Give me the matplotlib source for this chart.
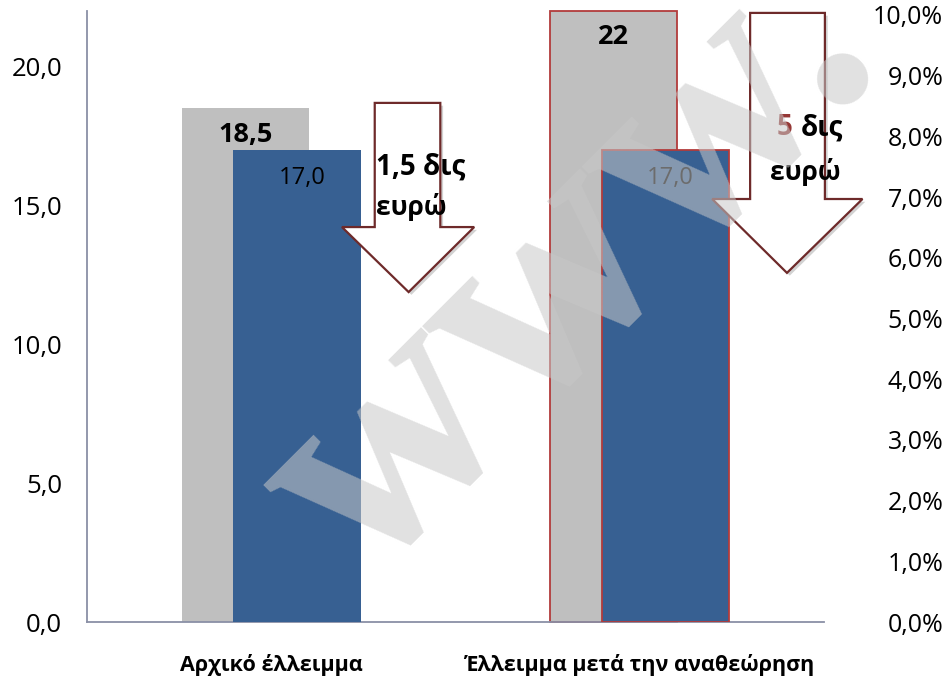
import numpy as np
import matplotlib
matplotlib.use('Agg')
from matplotlib import pyplot as plt
from matplotlib.patches import Polygon
import matplotlib.patheffects as pe

plt.rcParams['font.family'] = ['Open Sans', 'DejaVu Sans']

categories = ['Αρχικό έλλειμμα', 'Έλλειμμα μετά την αναθεώρηση']
grey_vals = [18.5, 22]
blue_vals = [17.0, 17.0]
grey_labels = ['18,5', '22']
blue_labels = ['17,0', '17,0']
left_ticks = [0, 5, 10, 15, 20]
right_ticks = [0, 1, 2, 3, 4, 5, 6, 7, 8, 9, 10]

grey = '#bfbfbf'
blue = '#376092'
bar_red = '#b23b3b'
arrow_red = '#6e2a2a'
spine = '#8a90a6'

fig = plt.figure(figsize=(9.47, 6.77), dpi=100)
ax = fig.add_axes([0.0919, 0.0812, 0.778, 0.9026])
ax2 = ax.twinx()

x = np.arange(len(categories))
w = 0.346
off = 0.0703
edges = ['none', bar_red]
for i in range(len(x)):
    ax.bar(x[i] - off, grey_vals[i], w, color=grey, edgecolor=edges[i], linewidth=1.3,
           zorder=2, clip_on=False)
for i in range(len(x)):
    ax.bar(x[i] + off, blue_vals[i], w, color=blue, edgecolor=edges[i], linewidth=1.3, zorder=3)

for i in range(len(x)):
    ax.text(x[i] - off, grey_vals[i] - 0.95, grey_labels[i], ha='center', va='center',
            fontsize=19.5, fontweight='bold', zorder=5)
    ax.text(x[i] + off + 0.014, blue_vals[i] - 1.0, blue_labels[i], ha='center', va='center',
            fontsize=17, zorder=5)

ax.set_xlim(-0.5, 1.5)
ax.set_ylim(0, 22)
ax.set_yticks(left_ticks)
ax.set_yticklabels([f'{v:.1f}'.replace('.', ',') for v in left_ticks])
ax.tick_params(axis='y', length=0, pad=18, labelsize=18.5)
ax.set_xticks(x)
ax.set_xticklabels(categories, fontweight='bold', fontsize=15.5)
ax.tick_params(axis='x', length=0, pad=23)

for s in ['top', 'right']:
    ax.spines[s].set_visible(False)
ax.spines['left'].set_color(spine)
ax.spines['bottom'].set_color(spine)
ax.spines['left'].set_linewidth(1.3)
ax.spines['bottom'].set_linewidth(1.3)

ax2.set_ylim(0, 10.066)
ax2.set_yticks(right_ticks)
ax2.set_yticklabels([f'{v:.1f}'.replace('.', ',') + '%' for v in right_ticks])
ax2.tick_params(axis='y', length=0, pad=86, labelsize=18)
for lab in ax2.get_yticklabels():
    lab.set_horizontalalignment('right')
for s in ax2.spines.values():
    s.set_visible(False)

# down arrows (shaft left, shaft right, head left, head right, tip x; top, shaft bottom, tip y)
arrows = [
    (0.281, 0.459, 0.192, 0.551, 0.373, 18.69, 14.22, 11.88),
    (1.300, 1.503, 1.197, 1.605, 1.400, 21.93, 15.23, 12.57),
]
for (sl, sr, hl, hr, tx, top, sb, ty) in arrows:
    pts = [(sl, top), (sr, top), (sr, sb), (hr, sb), (tx, ty), (hl, sb), (sl, sb)]
    poly = Polygon(pts, closed=True, facecolor='white', edgecolor=arrow_red,
                   linewidth=1.6, zorder=6, clip_on=False,
                   path_effects=[pe.SimplePatchShadow(offset=(2, -2), alpha=0.25), pe.Normal()])
    ax.add_patch(poly)

ax.text(0.285, 16.38, '1,5 δις', ha='left', va='center', fontsize=20, fontweight='bold', zorder=7)
ax.text(0.285, 14.95, 'ευρώ', ha='left', va='center', fontsize=19, fontweight='bold', zorder=7)
ax.text(1.414, 17.8, '5', ha='right', va='center', fontsize=20, fontweight='bold',
        color='#953735', zorder=7)
ax.text(1.438, 17.8, 'δις', ha='left', va='center', fontsize=20, fontweight='bold', zorder=7)
ax.text(1.449, 16.2, 'ευρώ', ha='center', va='center', fontsize=19, fontweight='bold', zorder=7)

# watermark over the whole chart
fig.text(0.385, 0.132, 'www.', fontsize=225, rotation=45, rotation_mode='anchor',
         ha='left', va='baseline', family='Liberation Serif', fontweight='bold',
         color='#c8c8c8', alpha=0.55, zorder=10)

fig.savefig('out.png', dpi=100)
